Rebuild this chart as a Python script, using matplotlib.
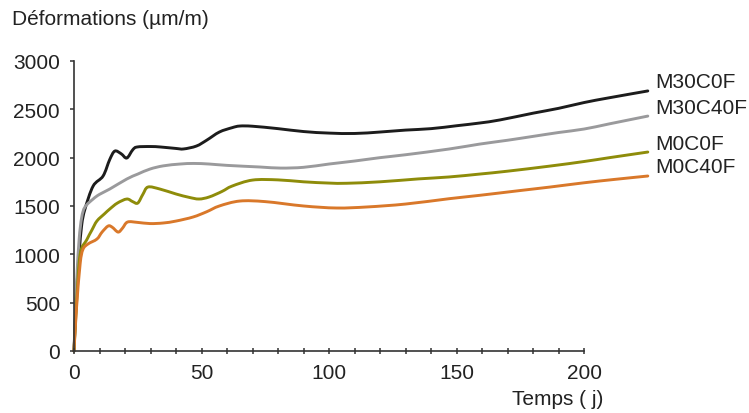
import numpy as np
import matplotlib.pyplot as plt
from matplotlib.path import Path
from matplotlib.patches import PathPatch
from matplotlib.ticker import MultipleLocator

plt.rcParams['font.family'] = ['Liberation Sans', 'DejaVu Sans']

# Courbes (jours, µm/m)
j_m30c0f = [0, 1, 2, 3, 4.3, 7.5, 11.4, 14, 16, 18.5, 20.7, 23, 24.7, 30, 34, 40, 43, 48, 52, 57, 62, 65,
            70, 80, 90, 100, 110, 120, 130, 140, 150, 159, 167, 180, 190, 200, 210, 225]
d_m30c0f = [0, 600, 1000, 1300, 1468, 1706, 1810, 1980, 2068, 2040, 1996, 2080, 2110, 2115, 2110, 2095, 2090,
            2120, 2180, 2265, 2310, 2327, 2325, 2300, 2270, 2254, 2250, 2265, 2285, 2300, 2330, 2358, 2390,
            2460, 2510, 2570, 2620, 2690]

j_m30c40f = [0, 1, 2, 3, 4.3, 7.5, 10, 14, 20.7, 25, 29.8, 35, 41.6, 47, 53, 60, 73, 81, 90, 100, 110, 120,
             130, 147, 159, 170, 180, 190, 200, 210, 225]
d_m30c40f = [0, 700, 1150, 1380, 1489, 1572, 1620, 1675, 1779, 1830, 1882, 1915, 1934, 1940, 1934, 1920, 1903,
             1892, 1900, 1934, 1965, 2000, 2030, 2089, 2140, 2180, 2220, 2260, 2296, 2350, 2430]

j_m0c0f = [0, 1, 2.4, 5, 7, 9, 12, 14, 17, 20.7, 23, 25, 27, 29, 33.7, 40, 45, 49, 53, 58, 62, 70, 80, 90,
           100, 107, 120, 135, 147, 159, 170, 186.7, 200, 210, 225]
d_m0c0f = [0, 500, 1000, 1150, 1250, 1345, 1420, 1468, 1530, 1572, 1545, 1530, 1620, 1696, 1675, 1624, 1590,
           1572, 1593, 1650, 1706, 1768, 1770, 1750, 1737, 1735, 1750, 1780, 1800, 1830, 1860, 1913, 1960,
           2000, 2058]

j_m0c40f = [0, 1, 2.4, 3.5, 5.5, 9, 11, 13.4, 15, 17.3, 19, 21, 25, 29.8, 35, 40, 46.7, 52, 57, 65, 75, 90,
            103, 115, 130, 147, 159, 175, 186.7, 200, 212, 225]
d_m0c40f = [0, 450, 900, 1050, 1107, 1158, 1230, 1293, 1280, 1230, 1270, 1334, 1330, 1318, 1324, 1344, 1386,
            1440, 1500, 1551, 1545, 1500, 1479, 1490, 1520, 1575, 1610, 1660, 1696, 1740, 1775, 1810]

noms = ['M30C0F', 'M30C40F', 'M0C0F', 'M0C40F']
couleurs = ['#1c1c1c', '#9a9a9c', '#8e8c0a', '#d9782a']
series = [(j_m30c0f, d_m30c0f), (j_m30c40f, d_m30c40f), (j_m0c0f, d_m0c0f), (j_m0c40f, d_m0c40f)]


def courbe_lisse(x, y):
    # Catmull-Rom -> beziers cubiques, pour un trace lisse passant par les points lus
    x = np.asarray(x, float)
    y = np.asarray(y, float)
    pts = np.column_stack([x, y])
    n = len(pts)
    verts = [pts[0]]
    codes = [Path.MOVETO]
    for i in range(n - 1):
        p0 = pts[max(i - 1, 0)]
        p1 = pts[i]
        p2 = pts[i + 1]
        p3 = pts[min(i + 2, n - 1)]
        c1 = p1 + (p2 - p0) / 6.0
        c2 = p2 - (p3 - p1) / 6.0
        verts += [c1, c2, p2]
        codes += [Path.CURVE4] * 3
    return Path(verts, codes)


fig = plt.figure(figsize=(7.49, 4.14), dpi=100)
ax = fig.add_axes([0.0988, 0.1498, 0.681, 0.7005])

for (jj, dd), nom, c in zip(series, noms, couleurs):
    patch = PathPatch(courbe_lisse(jj, dd), facecolor='none', edgecolor=c, lw=2.1,
                      joinstyle='round', capstyle='round', clip_on=False)
    ax.add_patch(patch)
    ax.annotate(nom, xy=(jj[-1], dd[-1]), xytext=(5.5, 6.5), textcoords='offset points',
                va='center', ha='left', fontsize=15, color='#222222', annotation_clip=False)

ax.set_xlim(0, 200)
ax.set_ylim(0, 3000)
ax.spines['top'].set_visible(False)
ax.spines['right'].set_visible(False)
for s in ['left', 'bottom']:
    ax.spines[s].set_color('#333333')
    ax.spines[s].set_linewidth(1.2)

ax.xaxis.set_major_locator(MultipleLocator(50))
ax.xaxis.set_minor_locator(MultipleLocator(10))
ax.yaxis.set_major_locator(MultipleLocator(500))
ax.tick_params(axis='x', which='both', direction='inout', length=5, width=1.1, color='#333333')
ax.tick_params(axis='x', which='major', labelsize=15, labelcolor='#222222', pad=6)
ax.tick_params(axis='y', direction='out', length=3, width=1.1, color='#333333',
               labelsize=15, labelcolor='#222222', pad=7)

fig.text(0.016, 0.952, 'Déformations (µm/m)', fontsize=15, color='#222222', va='center', ha='left')
fig.text(0.806, 0.034, 'Temps ( j)', fontsize=15, color='#222222', va='center', ha='right')

fig.savefig('out.png', dpi=100)
